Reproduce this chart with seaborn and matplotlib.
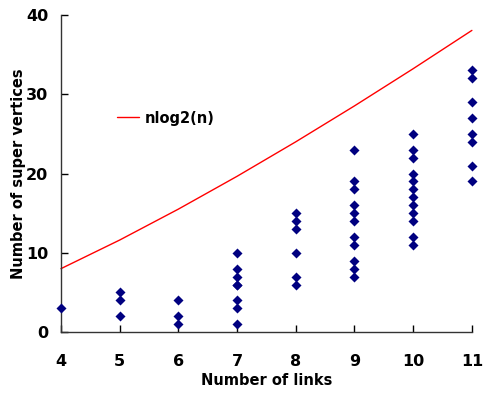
import numpy as np
import pandas as pd
import matplotlib
matplotlib.use("Agg")
import matplotlib.pyplot as plt
import seaborn as sns

# Scatter data (number of links -> number of super vertices)
links_4 = [3]
links_5 = [5, 4, 2]
links_6 = [4, 2, 1]
links_7 = [10, 8, 7, 6, 6, 4, 3, 1]
links_8 = [15, 14, 13, 10, 7, 6]
links_9 = [23, 19, 18, 16, 15, 14, 12, 11, 9, 8, 7]
links_10 = [25, 23, 22, 20, 19, 18, 17, 16, 15, 14, 12, 11]
links_11 = [33, 32, 29, 27, 25, 24, 21, 19]

# nlog2(n) curve read at each n
curve_n = [4, 5, 6, 7, 8, 9, 10, 11]
curve_v = [8.0, 11.61, 15.51, 19.65, 24.0, 28.53, 33.22, 38.05]

x_ticks = [4, 5, 6, 7, 8, 9, 10, 11]
y_ticks = [0, 10, 20, 30, 40]

groups = {4: links_4, 5: links_5, 6: links_6, 7: links_7,
          8: links_8, 9: links_9, 10: links_10, 11: links_11}
df = pd.DataFrame([(k, v) for k, vs in groups.items() for v in vs],
                  columns=["links", "sv"])
cdf = pd.DataFrame({"n": curve_n, "v": curve_v})

sns.set_theme(style="white")
plt.rcParams['font.family'] = ['DejaVu Sans']
plt.rcParams['font.weight'] = 'bold'

fig = plt.figure(figsize=(4.84, 3.93), dpi=100)
ax = fig.add_axes([0.126, 0.155, 0.849, 0.807])

sns.lineplot(data=cdf, x="n", y="v", ax=ax, color="#ff0000", linewidth=1.0,
             label="nlog2(n)", clip_on=False)
sns.scatterplot(data=df, x="links", y="sv", ax=ax, marker="D", s=26,
                color="#000080", linewidth=0, clip_on=False, zorder=3)

ax.set_xlim(4, 11)
ax.set_ylim(0, 40)
ax.set_xticks(x_ticks)
ax.set_yticks(y_ticks)
ax.tick_params(axis="x", bottom=True, direction="in", length=5, width=1, pad=16,
               labelsize=11.5, colors="black")
ax.tick_params(axis="y", left=True, direction="in", length=5, width=1, pad=9,
               labelsize=11.5, colors="black")
for lab in ax.get_xticklabels() + ax.get_yticklabels():
    lab.set_fontweight("bold")

for side in ["top", "right"]:
    ax.spines[side].set_visible(False)
for side in ["left", "bottom"]:
    ax.spines[side].set_color("#333333")
    ax.spines[side].set_linewidth(1.0)

ax.set_xlabel("Number of links", fontsize=10.5, fontweight="bold", labelpad=3,
              color="black")
ax.set_ylabel("Number of super vertices", fontsize=10.5, fontweight="bold",
              labelpad=0, color="black")

leg = ax.legend(loc="center left", bbox_to_anchor=(0.105, 0.675), frameon=False,
                fontsize=10.5, handlelength=1.5, handletextpad=0.4)
for t in leg.get_texts():
    t.set_fontweight("bold")
    t.set_color("black")

fig.savefig("out.png", dpi=100)
